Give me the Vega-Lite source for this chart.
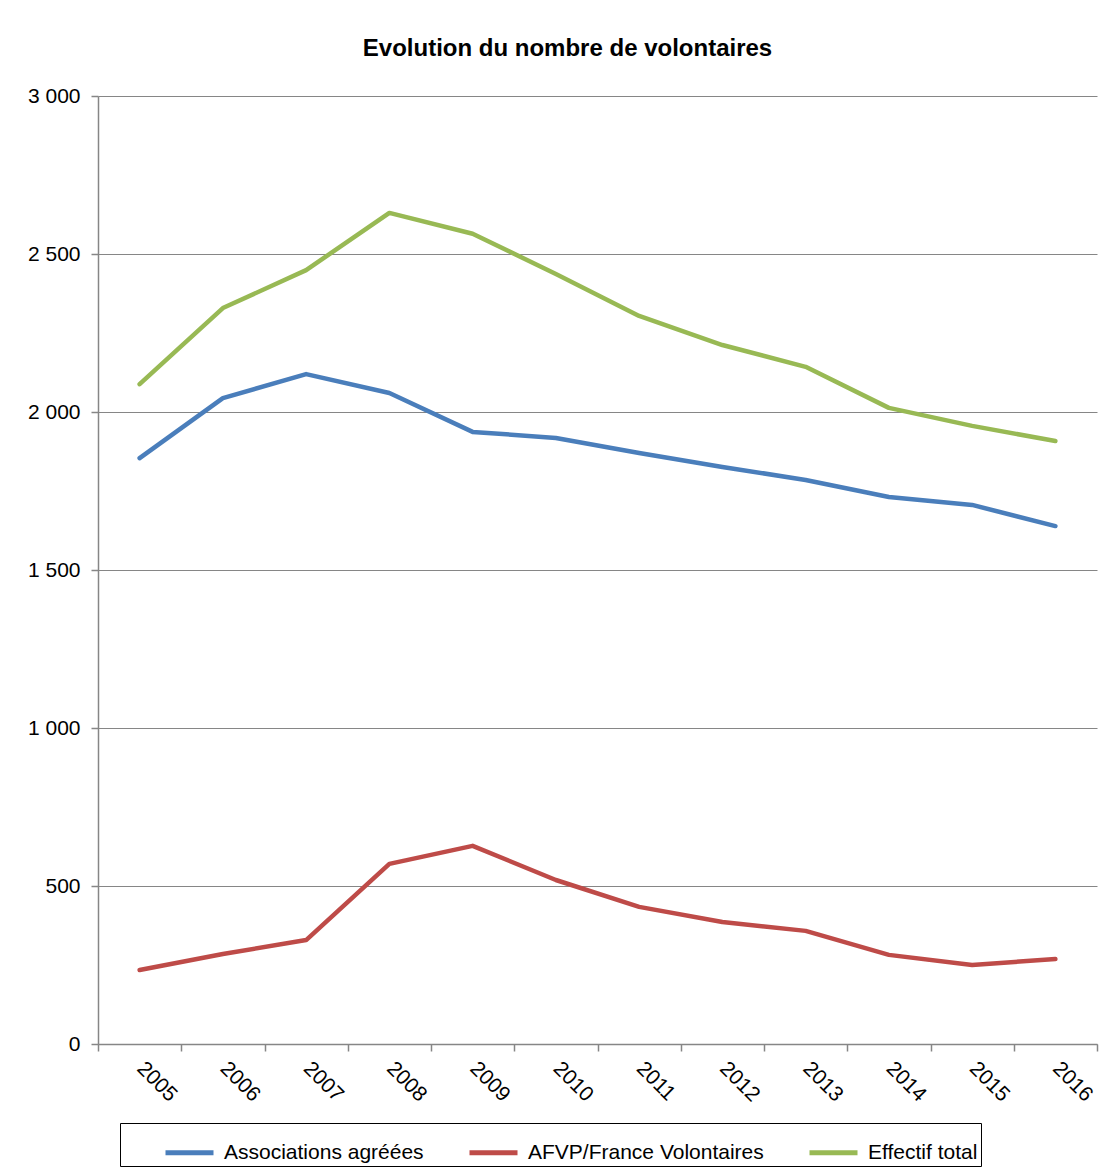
{
  "$schema": "https://vega.github.io/schema/vega-lite/v6.json",
  "width": 999,
  "height": 948,
  "autosize": {"type": "none"},
  "padding": {"left": 98, "top": 96, "right": 16, "bottom": 128},
  "background": "white",
  "title": {
    "text": "Evolution du nombre de volontaires",
    "font": "Liberation Sans",
    "fontSize": 24,
    "fontWeight": "bold",
    "color": "black",
    "anchor": "middle",
    "dx": -30,
    "offset": 24
  },
  "data": {
    "values": [
      {"annee": "2005", "serie": "Associations agréées", "valeur": 1854},
      {"annee": "2006", "serie": "Associations agréées", "valeur": 2044},
      {"annee": "2007", "serie": "Associations agréées", "valeur": 2120},
      {"annee": "2008", "serie": "Associations agréées", "valeur": 2060},
      {"annee": "2009", "serie": "Associations agréées", "valeur": 1937},
      {"annee": "2010", "serie": "Associations agréées", "valeur": 1918},
      {"annee": "2011", "serie": "Associations agréées", "valeur": 1870},
      {"annee": "2012", "serie": "Associations agréées", "valeur": 1826},
      {"annee": "2013", "serie": "Associations agréées", "valeur": 1785},
      {"annee": "2014", "serie": "Associations agréées", "valeur": 1731},
      {"annee": "2015", "serie": "Associations agréées", "valeur": 1706},
      {"annee": "2016", "serie": "Associations agréées", "valeur": 1639},
      {"annee": "2005", "serie": "AFVP/France Volontaires", "valeur": 234},
      {"annee": "2006", "serie": "AFVP/France Volontaires", "valeur": 285},
      {"annee": "2007", "serie": "AFVP/France Volontaires", "valeur": 329},
      {"annee": "2008", "serie": "AFVP/France Volontaires", "valeur": 570},
      {"annee": "2009", "serie": "AFVP/France Volontaires", "valeur": 627},
      {"annee": "2010", "serie": "AFVP/France Volontaires", "valeur": 519},
      {"annee": "2011", "serie": "AFVP/France Volontaires", "valeur": 434},
      {"annee": "2012", "serie": "AFVP/France Volontaires", "valeur": 386},
      {"annee": "2013", "serie": "AFVP/France Volontaires", "valeur": 358},
      {"annee": "2014", "serie": "AFVP/France Volontaires", "valeur": 282},
      {"annee": "2015", "serie": "AFVP/France Volontaires", "valeur": 250},
      {"annee": "2016", "serie": "AFVP/France Volontaires", "valeur": 269},
      {"annee": "2005", "serie": "Effectif total", "valeur": 2088},
      {"annee": "2006", "serie": "Effectif total", "valeur": 2329},
      {"annee": "2007", "serie": "Effectif total", "valeur": 2449},
      {"annee": "2008", "serie": "Effectif total", "valeur": 2630},
      {"annee": "2009", "serie": "Effectif total", "valeur": 2564},
      {"annee": "2010", "serie": "Effectif total", "valeur": 2437},
      {"annee": "2011", "serie": "Effectif total", "valeur": 2304},
      {"annee": "2012", "serie": "Effectif total", "valeur": 2212},
      {"annee": "2013", "serie": "Effectif total", "valeur": 2143},
      {"annee": "2014", "serie": "Effectif total", "valeur": 2013},
      {"annee": "2015", "serie": "Effectif total", "valeur": 1956},
      {"annee": "2016", "serie": "Effectif total", "valeur": 1908}
    ]
  },
  "mark": {"type": "line", "strokeWidth": 4.5, "strokeCap": "round", "strokeJoin": "round"},
  "encoding": {
    "x": {
      "field": "annee",
      "type": "ordinal",
      "scale": {"type": "band", "paddingInner": 0, "paddingOuter": 0},
      "axis": {
        "title": null,
        "tickBand": "extent",
        "labelAngle": 45,
        "labelAlign": "left",
        "labelBaseline": "middle",
        "labelPadding": 14,
        "labelFontSize": 21,
        "labelFont": "Liberation Sans",
        "labelColor": "black",
        "tickSize": 7,
        "tickColor": "#868686",
        "domainColor": "#868686",
        "grid": false
      }
    },
    "y": {
      "field": "valeur",
      "type": "quantitative",
      "scale": {"domain": [0, 3000], "nice": false},
      "axis": {
        "title": null,
        "values": [0, 500, 1000, 1500, 2000, 2500, 3000],
        "labelExpr": "replace(format(datum.value, ','), ',', ' ')",
        "labelFontSize": 21,
        "labelFont": "Liberation Sans",
        "labelColor": "black",
        "labelPadding": 11,
        "tickSize": 7,
        "tickColor": "#868686",
        "domainColor": "#868686",
        "grid": true,
        "gridColor": "#868686",
        "gridOpacity": 1
      }
    },
    "color": {
      "field": "serie",
      "type": "nominal",
      "scale": {
        "domain": ["Associations agréées", "AFVP/France Volontaires", "Effectif total"],
        "range": ["#4A7EBB", "#BE4B48", "#98B954"]
      },
      "legend": {
        "title": null,
        "orient": "none",
        "legendX": 22,
        "legendY": 1027,
        "direction": "horizontal",
        "symbolType": "stroke",
        "symbolSize": 2304,
        "symbolStrokeWidth": 5,
        "symbolOffset": 40,
        "labelOffset": 8,
        "labelFontSize": 21,
        "labelFont": "Liberation Sans",
        "labelColor": "black",
        "labelLimit": 0,
        "columnPadding": 3,
        "padding": 3,
        "strokeColor": "black"
      }
    }
  },
  "config": {
    "view": {"stroke": null},
    "axis": {"domainWidth": 1.5, "tickWidth": 1.5}
  }
}
